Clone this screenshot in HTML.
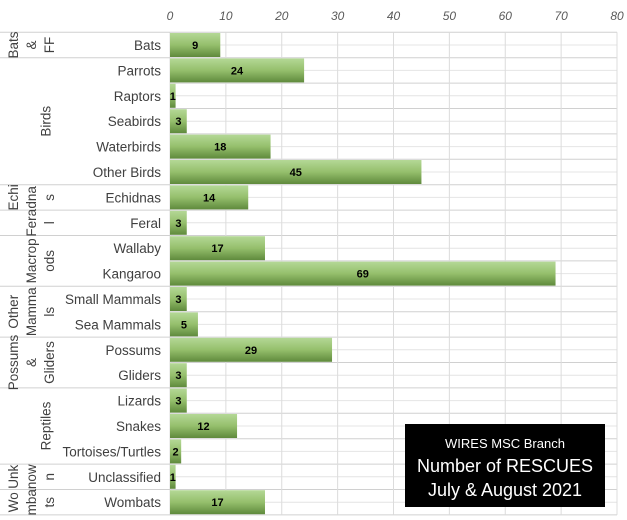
<!DOCTYPE html>
<html><head><meta charset="utf-8"><style>
body{margin:0;background:#fff}
svg{display:block;font-family:"Liberation Sans",sans-serif}
</style></head><body>
<svg width="627" height="520" viewBox="0 0 627 520" xmlns="http://www.w3.org/2000/svg">
<defs>
<linearGradient id="g" x1="0" y1="0" x2="0" y2="1">
<stop offset="0" stop-color="#b4d896"/>
<stop offset="0.5" stop-color="#95bf6c"/>
<stop offset="1" stop-color="#5f8a3c"/>
</linearGradient>
</defs>
<g id="grid" stroke="#dcdcdc" stroke-width="1"></g>
<g id="bars"></g>
<g id="txt"></g>
<rect x="405" y="424" width="200" height="83" fill="#000"/>
<text x="505" y="448" fill="#fff" font-size="13" text-anchor="middle">WIRES MSC Branch</text>
<text x="505" y="472" fill="#fff" font-size="18" text-anchor="middle">Number of RESCUES</text>
<text x="505" y="496" fill="#fff" font-size="18" text-anchor="middle">July &amp; August 2021</text>
</svg>
<script>
const NS="http://www.w3.org/2000/svg";
function el(p,t,a,txt){const e=document.createElementNS(NS,t);for(const k in a)e.setAttribute(k,a[k]);if(txt!==undefined)e.textContent=txt;p.appendChild(e);return e;}
const grid=document.getElementById('grid'),bars=document.getElementById('bars'),txt=document.getElementById('txt');
const X0=170,S=5.5875,Y0=32.3,R=25.4;
const rows=[["Bats",9],["Parrots",24],["Raptors",1],["Seabirds",3],["Waterbirds",18],["Other Birds",45],["Echidnas",14],["Feral",3],["Wallaby",17],["Kangaroo",69],["Small Mammals",3],["Sea Mammals",5],["Possums",29],["Gliders",3],["Lizards",3],["Snakes",12],["Tortoises/Turtles",2],["Unclassified",1],["Wombats",17]];
for(let i=0;i<=38;i++){const y=Y0+i*R/2;el(grid,'line',{x1:X0,x2:617,y1:y,y2:y,stroke:i%2?'#e4e4e4':'#d0d0d0'});}
for(let v=0;v<=80;v+=10){const x=X0+v*S;el(grid,'line',{x1:x,x2:x,y1:Y0,y2:Y0+19*R});
el(txt,'text',{x:x,y:20,'font-size':12,'font-style':'italic',fill:'#595959','text-anchor':'middle'},String(v));}
rows.forEach((r,i)=>{const yc=Y0+R*i+R/2;
el(bars,'rect',{x:X0,y:yc-12,width:r[1]*S,height:24,fill:'url(#g)'});
el(txt,'text',{x:X0+r[1]*S/2,y:yc+4,'font-size':11,'font-weight':'bold',fill:'#000','text-anchor':'middle'},String(r[1]));
el(txt,'text',{x:161,y:yc+5,'font-size':13.5,fill:'#404040','text-anchor':'end'},r[0]);});
[0,1,6,7,8,10,12,14,17,18,19].forEach(i=>{const y=Y0+i*R;el(grid,'line',{x1:0,x2:X0,y1:y,y2:y,stroke:'#d0d0d0'});});
const groups=[[0,1,["Bats","&","FF"],[0,1,2]],[1,6,["Birds"],[1.8]],[6,7,["Echi","dna","s"],[0,1,2]],[7,8,["Fera","l"],[1,2]],[8,10,["Macrop","ods"],[1,2]],[10,12,["Other","Mamma","ls"],[0,1,2]],[12,14,["Possums","&","Gliders"],[0,1,2]],[14,17,["Reptiles"],[1.8]],[17,18,["Unk","now","n"],[0,1,2]],[18,19,["Wo","mba","ts"],[0,1,2]]];
groups.forEach(g=>{const yc=Y0+R*(g[0]+g[1])/2;
g[2].forEach((l,j)=>{const x=13+g[3][j]*18+5;
el(txt,'text',{x:0,y:0,'font-size':13.5,fill:'#404040','text-anchor':'middle',transform:`translate(${x},${yc}) rotate(-90)`},l);});});
</script>
</body></html>
